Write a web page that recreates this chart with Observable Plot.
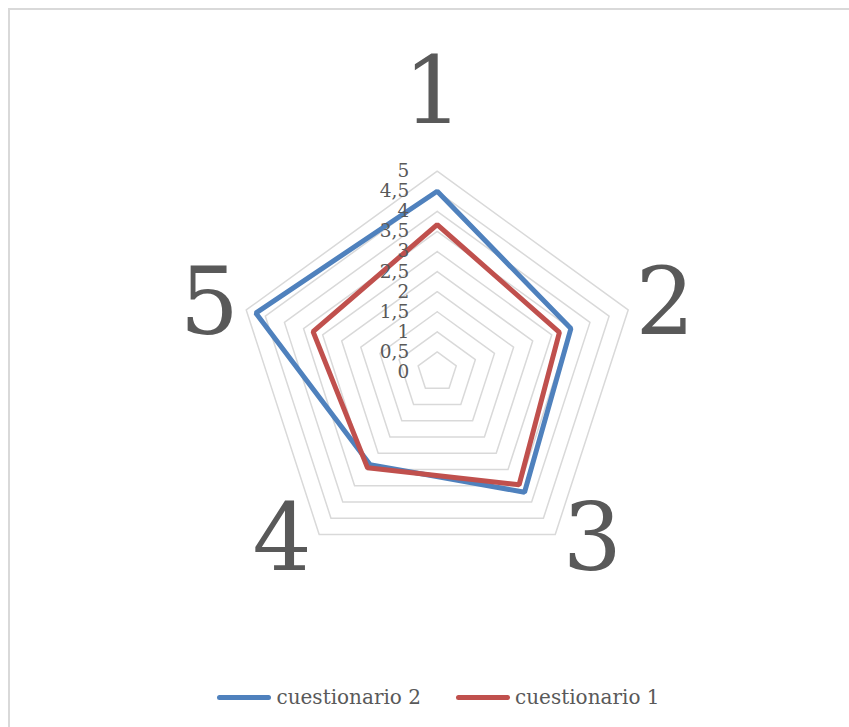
<!DOCTYPE html>
<html>
<head>
<meta charset="utf-8">
<script src="https://cdn.jsdelivr.net/npm/d3@7"></script>
<script src="https://cdn.jsdelivr.net/npm/@observablehq/plot@0.6"></script>
<style>
  html, body { margin: 0; padding: 0; background: #fff; overflow: hidden; }
  #wrap { position: relative; width: 849px; height: 727px; overflow: hidden; }
  #frame { position: absolute; left: 8px; top: 8px; width: 900px; height: 800px;
           border: 2px solid #d9d9d9; box-sizing: border-box; pointer-events: none; }
  #chart { position: absolute; left: 0; top: 0; }
  #legend { position: absolute; left: 14px; top: 684px; width: 849px; height: 26px;
            display: flex; justify-content: center; align-items: center;
            font-family: "DejaVu Serif", serif; font-size: 20px; color: #595959; }
  .sw { display: inline-block; width: 54px; height: 5px; border-radius: 3px; margin-right: 5px; }
  .item { display: flex; align-items: center; }
</style>
</head>
<body>
<div id="wrap">
  <div id="frame"></div>
  <div id="chart"></div>
  <div id="legend"></div>
</div>
<script>
// ---- data ----
const axes = ["1", "2", "3", "4", "5"];
const cuestionario2 = [4.5, 3.5, 3.7, 2.85, 4.75];
const cuestionario1 = [3.67, 3.2, 3.47, 2.95, 3.25];
const tickValues = [0, 0.5, 1, 1.5, 2, 2.5, 3, 3.5, 4, 4.5, 5];
const tickLabels = ["0", "0,5", "1", "1,5", "2", "2,5", "3", "3,5", "4", "4,5", "5"];
const seriesNames = ["cuestionario 2", "cuestionario 1"];
const seriesColors = ["#4f81bd", "#c0504d"];

// ---- geometry helpers ----
const n = axes.length;
const ang = i => (i * 2 * Math.PI) / n;
const px = (v, i) => v * Math.sin(ang(i));
const py = (v, i) => v * Math.cos(ang(i));

// grid pentagons
const grid = [];
tickValues.filter(t => t > 0).forEach(t => {
  for (let i = 0; i <= n; i++) grid.push({level: t, x: px(t, i % n), y: py(t, i % n)});
});

// series rows
const seriesData = [cuestionario2, cuestionario1].map((vals, s) =>
  vals.map((v, i) => ({series: seriesNames[s], axis: axes[i], value: v, x: px(v, i), y: py(v, i)}))
);

const ticksData = tickValues.map((t, k) => ({v: t, label: tickLabels[k]}));

const cx = 436.7, cy = 371.5, R = 200.8;

const labelMarks = axes.map((a, i) => {
  const s = Math.sin(ang(i)), c = Math.cos(ang(i));
  let dx, dy;
  if (Math.abs(s) < 0.01) { dx = -4; dy = c > 0 ? -78 : 78; }
  else { dx = Math.sign(s) * 37; dy = c > 0 ? -6 : 6; }
  return Plot.text([a], {
    x: () => px(5, i), y: () => py(5, i), text: d => d,
    dx, dy, fontSize: 93, fontFamily: "DejaVu Serif", fill: "#595959",
    textAnchor: "middle", lineAnchor: "middle"
  });
});

const chart = Plot.plot({
  width: 849,
  height: 670,
  margin: 0,
  x: {domain: [-5, 5], range: [cx - R, cx + R], axis: null},
  y: {domain: [-5, 5], range: [cy + R, cy - R], axis: null},
  style: {background: "transparent", overflow: "visible"},
  marks: [
    Plot.line(grid, {x: "x", y: "y", z: "level", stroke: "#d9d9d9", strokeWidth: 1.5}),
    ...seriesData.map((rows, s) =>
      Plot.line(rows, {x: "x", y: "y", curve: "linear-closed", stroke: seriesColors[s],
                       strokeWidth: 5, strokeLinejoin: "miter"})
    ),
    Plot.text(ticksData, {x: () => 0, y: "v", text: "label", dx: -28, textAnchor: "end",
                          lineAnchor: "middle", fontSize: 18.5, fontFamily: "DejaVu Serif",
                          fill: "#595959"}),
    ...labelMarks
  ]
});
document.getElementById("chart").appendChild(chart);

// legend
const leg = document.getElementById("legend");
seriesNames.forEach((name, s) => {
  const item = document.createElement("div");
  item.className = "item";
  if (s > 0) item.style.marginLeft = "35px";
  const sw = document.createElement("span");
  sw.className = "sw";
  sw.style.background = seriesColors[s];
  const tx = document.createElement("span");
  tx.textContent = name;
  item.appendChild(sw);
  item.appendChild(tx);
  leg.appendChild(item);
});
</script>
</body>
</html>
